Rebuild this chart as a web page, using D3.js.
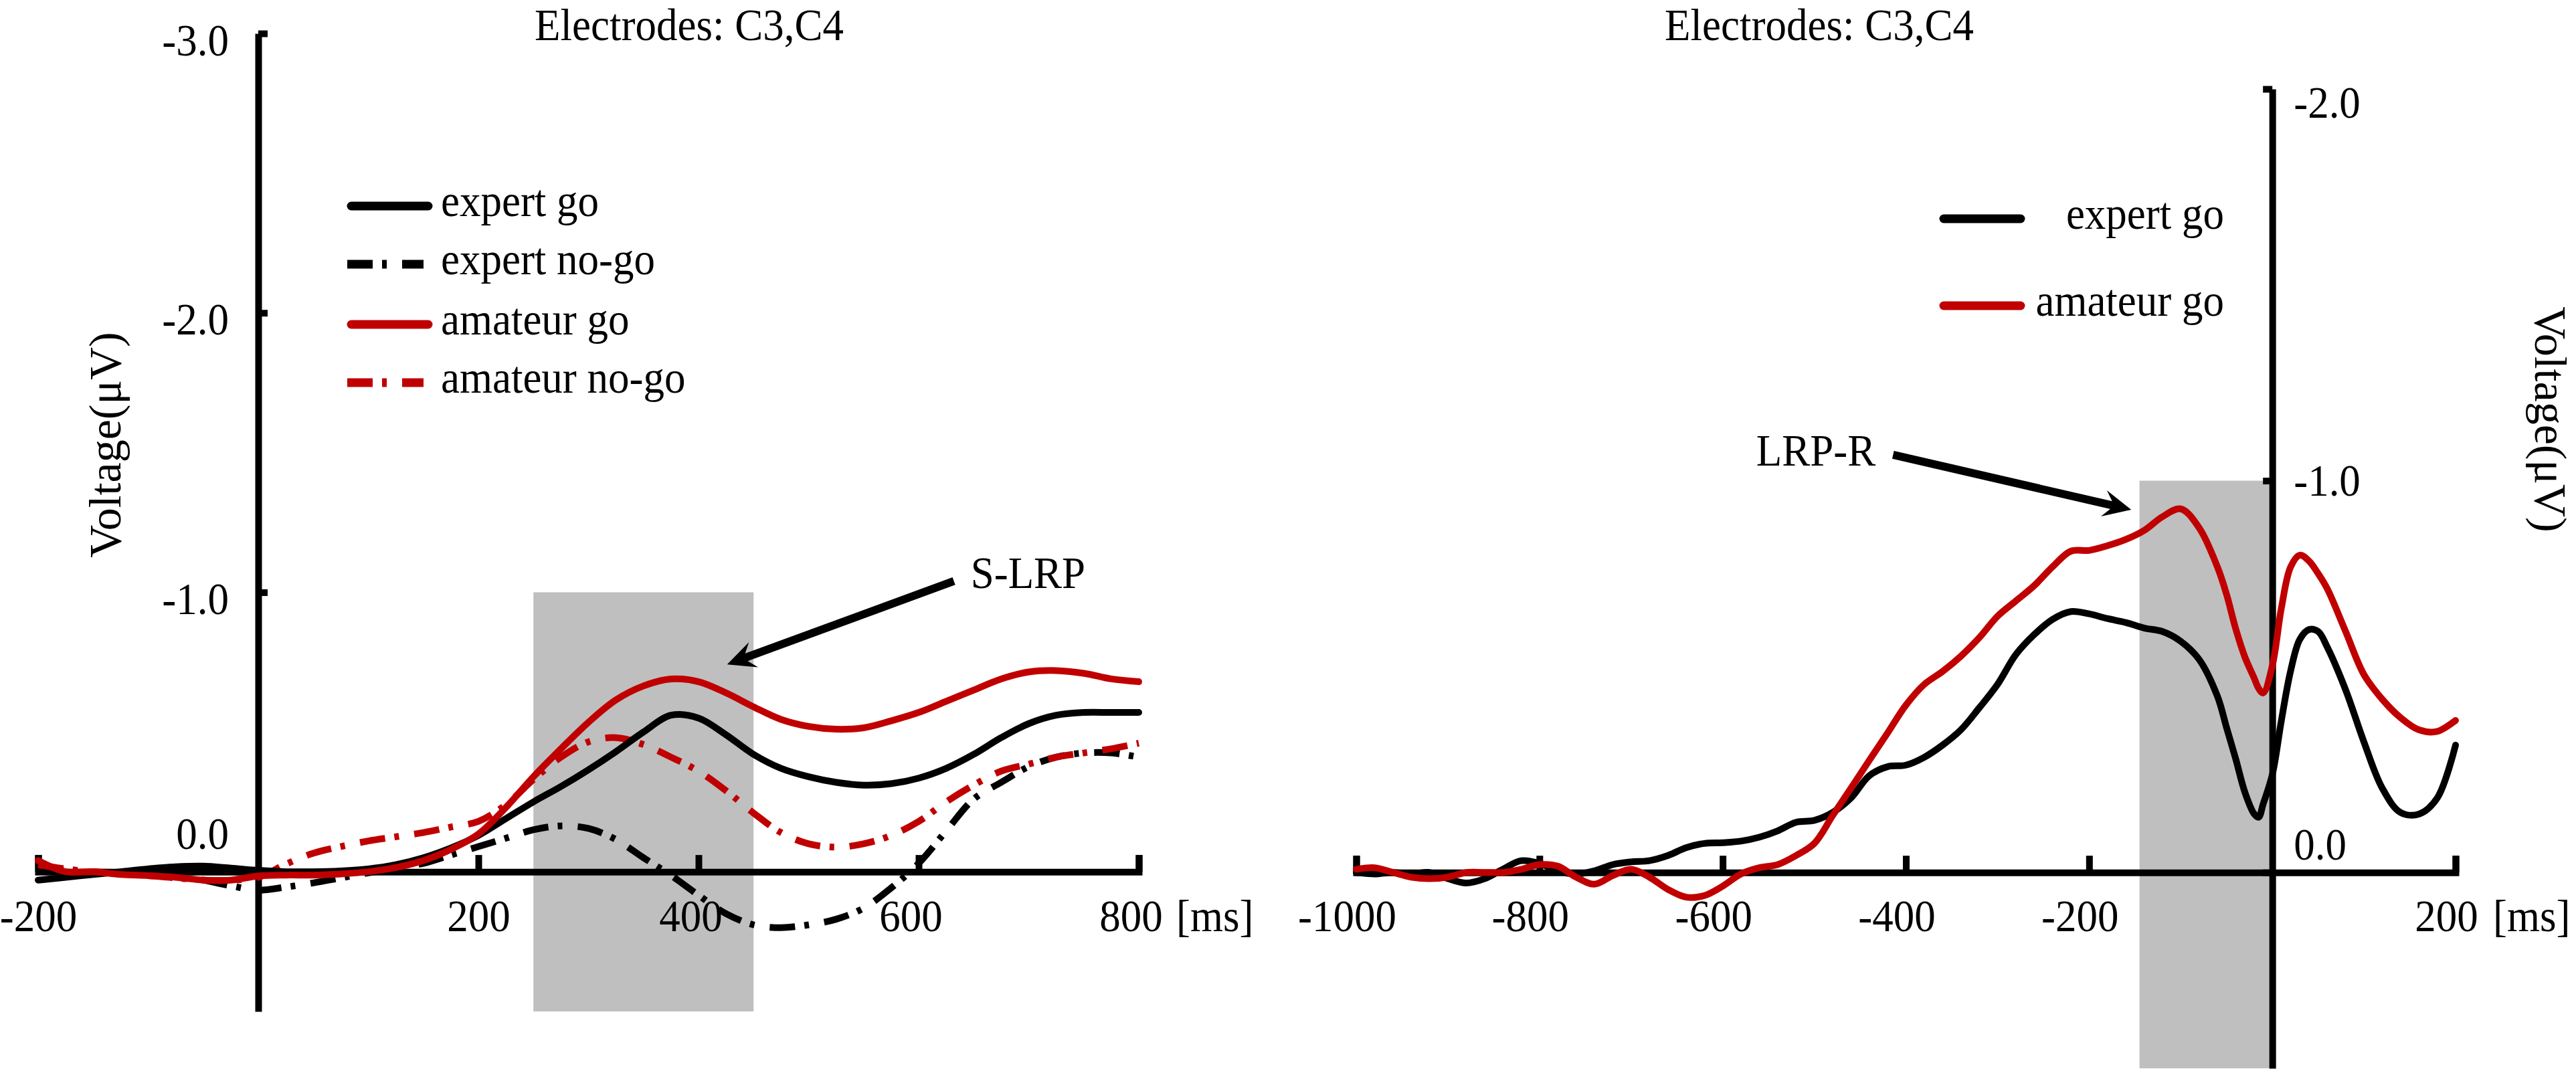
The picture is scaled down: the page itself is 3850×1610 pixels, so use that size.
<!DOCTYPE html>
<html>
<head>
<meta charset="utf-8">
<script src="https://cdn.jsdelivr.net/npm/d3@7"></script>
<style>
  body { margin: 0; background: #fff; }
  svg { display: block; background: #fff; }
</style>
</head>
<body>
<svg id="chart" width="3850" height="1610"></svg>
<script>
// ---- stimulus-locked LRP (left panel), ms and µV ----
const sTimes = [-200, -175, -150, -125, -100, -75, -50, -25, 0, 25, 50, 75, 100, 125, 150, 175,
    200, 225, 250, 275, 300, 325, 350, 375, 400, 425, 450, 475, 500, 525, 550, 575,
    600, 625, 650, 675, 700, 725, 750, 775, 800];

const expertGoS = [0.03, 0.02, 0.01, 0.0, -0.01, -0.018, -0.02, -0.013, -0.005, 0.0, 0.0, -0.003,
    -0.01, -0.025, -0.05, -0.085, -0.13, -0.19, -0.25, -0.305, -0.365, -0.43, -0.5, -0.56,
    -0.55, -0.49, -0.42, -0.37, -0.34, -0.32, -0.31, -0.315, -0.335, -0.37, -0.42, -0.48,
    -0.53, -0.56, -0.57, -0.57, -0.57];

const expertNoGoS = [-0.01, -0.005, 0.0, 0.003, 0.006, 0.015, 0.03, 0.05, 0.066, 0.055, 0.04, 0.022,
    0.004, -0.013, -0.03, -0.06, -0.09, -0.12, -0.15, -0.164, -0.155, -0.115, -0.05, 0.013,
    0.084, 0.15, 0.19, 0.2, 0.19, 0.17, 0.13, 0.058, -0.03, -0.146, -0.26, -0.32,
    -0.376, -0.41, -0.425, -0.425, -0.41];

const amateurGoS = [-0.04, 0.0, 0.0, 0.01, 0.014, 0.02, 0.03, 0.03, 0.015, 0.012, 0.012, 0.008,
    0.0, -0.015, -0.04, -0.08, -0.135, -0.23, -0.34, -0.44, -0.535, -0.615, -0.665, -0.69,
    -0.68, -0.64, -0.59, -0.545, -0.52, -0.51, -0.515, -0.54, -0.57, -0.61, -0.65, -0.69,
    -0.715, -0.72, -0.71, -0.69, -0.68];

const amateurNoGoS = [-0.025, -0.01, 0.0, 0.008, 0.014, 0.022, 0.03, 0.03, 0.02, -0.027, -0.066, -0.09,
    -0.11, -0.125, -0.14, -0.16, -0.18, -0.24, -0.33, -0.41, -0.465, -0.48, -0.455, -0.41,
    -0.36, -0.29, -0.21, -0.14, -0.1, -0.088, -0.1, -0.13, -0.18, -0.25, -0.31, -0.36,
    -0.385, -0.41, -0.425, -0.44, -0.46];

// ---- response-locked LRP (right panel) ----
const rTimes = [-1000, -980, -960, -940, -920, -900, -880, -860, -840, -820, -800, -780,
    -760, -740, -720, -700, -680, -660, -640, -620, -600, -580, -560, -540,
    -520, -500, -480, -460, -440, -420, -400, -380, -360, -340, -320, -300,
    -280, -260, -240, -220, -200, -180, -160, -140, -120, -100, -80, -60,
    -50, -40, -30, -20, -15, -10, 0, 10, 20, 30, 40, 50, 60,
    80, 100, 120, 140, 160, 180, 200];

const expertGoR = [0.0, 0.004, 0.0, 0.004, 0.0, 0.016, 0.027, 0.016, -0.008, -0.03, -0.023, -0.004,
    0.004, -0.004, -0.02, -0.027, -0.03, -0.043, -0.063, -0.074, -0.076, -0.08, -0.09, -0.106,
    -0.128, -0.133, -0.153, -0.19, -0.247, -0.27, -0.274, -0.294, -0.325, -0.364, -0.42, -0.48,
    -0.556, -0.607, -0.646, -0.666, -0.66, -0.648, -0.638, -0.624, -0.615, -0.59, -0.544, -0.45,
    -0.37, -0.29, -0.205, -0.15, -0.141, -0.175, -0.25, -0.39, -0.515, -0.595, -0.62, -0.615, -0.575,
    -0.466, -0.333, -0.215, -0.153, -0.149, -0.19, -0.325];

const amateurGoR = [-0.008, -0.012, 0.0, 0.012, 0.016, 0.012, 0.0, 0.0, 0.0, -0.008, -0.02, -0.016,
    0.012, 0.03, 0.008, -0.008, 0.012, 0.043, 0.063, 0.059, 0.035, 0.004, -0.012, -0.02,
    -0.043, -0.074, -0.145, -0.215, -0.286, -0.356, -0.427, -0.48, -0.513, -0.552, -0.599, -0.654,
    -0.693, -0.732, -0.78, -0.82, -0.822, -0.834, -0.85, -0.873, -0.908, -0.928, -0.88, -0.78,
    -0.71, -0.622, -0.55, -0.497, -0.47, -0.458, -0.528, -0.677, -0.78, -0.81, -0.795, -0.763, -0.724,
    -0.615, -0.505, -0.442, -0.395, -0.364, -0.36, -0.388];

const sTicksX = [-200, 200, 400, 600, 800];
const sTicksY = [-3, -2, -1, 0];
const rTicksX = [-1000, -800, -600, -400, -200, 200];
const rTicksY = [-2, -1, 0];

const sWindow = [250, 450];   // shaded S-LRP window (ms)
const rWindow = [-145, 0];    // shaded LRP-R window (ms)

const red = "#c00000";
const grey = "#bfbfbf";
const serif = '"Liberation Serif", "Times New Roman", Times, serif';
const fs = 63;
const vStretch = 1.08;        // the figure's lettering is slightly tall
const dashDot = "38,14,7,23";

const svg = d3.select("#chart")
    .attr("font-family", serif)
    .attr("font-size", fs);

// scales
const xS = d3.scaleLinear().domain([-200, 800]).range([57, 1702]);
const yS = d3.scaleLinear().domain([-3, 0.5]).range([50, 1512]);
const xR = d3.scaleLinear().domain([-1000, 200]).range([2027, 3670]);
const yR = d3.scaleLinear().domain([-2, 0.5]).range([133, 1597]);

const addText = (x, y, str, anchor = "start") => svg.append("text")
    .attr("transform", `translate(${x},${y}) scale(1,${vStretch})`)
    .attr("text-anchor", anchor)
    .text(str);

// shaded windows (from -1.0 down to the bottom of the axis)
svg.append("rect")
    .attr("x", xS(sWindow[0]))
    .attr("width", xS(sWindow[1]) - xS(sWindow[0]))
    .attr("y", yS(-1))
    .attr("height", yS(0.5) - yS(-1))
    .attr("fill", grey);

svg.append("rect")
    .attr("x", xR(rWindow[0]))
    .attr("width", xR(rWindow[1]) - xR(rWindow[0]))
    .attr("y", yR(-1))
    .attr("height", yR(0.5) - yR(-1))
    .attr("fill", grey);

// axis styling; labels placed by (dx, baseline) relative to the tick
const styleAxis = (g, place) => {
    g.attr("font-family", serif).attr("font-size", fs);
    g.select(".domain").attr("stroke-width", 10);
    g.selectAll(".tick line").attr("stroke-width", 10);
    g.selectAll(".tick text")
        .attr("fill", "#000")
        .attr("x", null).attr("y", null).attr("dy", null)
        .attr("transform", d => {
            const [dx, by] = place(d);
            return `translate(${dx},${by}) scale(1,${vStretch})`;
        });
};

const fmtX = d => String(d);
const fmtY = d => d.toFixed(1);

// left axes
const gSx = svg.append("g")
    .attr("transform", `translate(0,${yS(0)})`)
    .call(d3.axisBottom(xS).tickValues(sTicksX).tickSizeInner(-25).tickSizeOuter(-25)
        .tickFormat(fmtX));
styleAxis(gSx, d => [d >= 400 ? -12 : 0, 89]);

const gSy = svg.append("g")
    .attr("transform", `translate(${xS(0)},0)`)
    .call(d3.axisLeft(yS).tickValues(sTicksY).tickSizeInner(-14).tickSizeOuter(0)
        .tickFormat(fmtY));
styleAxis(gSy, d => [-44, d === 0 ? -35 : 32]);

// right axes
const gRx = svg.append("g")
    .attr("transform", `translate(0,${yR(0)})`)
    .call(d3.axisBottom(xR).tickValues(rTicksX).tickSizeInner(-25).tickSizeOuter(-25)
        .tickFormat(fmtX));
styleAxis(gRx, () => [-14, 88]);

const gRy = svg.append("g")
    .attr("transform", `translate(${xR(0)},0)`)
    .call(d3.axisRight(yR).tickValues(rTicksY).tickSizeInner(-14).tickSizeOuter(0)
        .tickFormat(fmtY));
styleAxis(gRy, d => [32, d === -2 ? 42 : d === -1 ? 22 : -20]);

// unit labels
addText(1758, yS(0) + 89, "[ms]");
addText(3726, yR(0) + 88, "[ms]");

// titles
addText(1030, 60, "Electrodes: C3,C4", "middle");
addText(2719, 60, "Electrodes: C3,C4", "middle");

// y axis titles
svg.append("text")
    .attr("transform", "translate(180,665) rotate(-90)")
    .attr("text-anchor", "middle")
    .attr("font-size", 68)
    .text("Voltage(μV)");
svg.append("text")
    .attr("transform", "translate(3789,627) rotate(90)")
    .attr("text-anchor", "middle")
    .attr("font-size", 68)
    .text("Voltage(μV)");

// curves
const drawCurve = (times, values, x, y, color, dashed) => {
    const line = d3.line()
        .x((d, i) => x(times[i]))
        .y(d => y(d))
        .curve(d3.curveCatmullRom.alpha(0.5));
    svg.append("path")
        .datum(values)
        .attr("d", line)
        .attr("fill", "none")
        .attr("stroke", color)
        .attr("stroke-width", 10)
        .attr("stroke-linejoin", "round")
        .attr("stroke-linecap", dashed ? "butt" : "round")
        .attr("stroke-dasharray", dashed ? dashDot : null);
};

drawCurve(sTimes, expertNoGoS, xS, yS, "#000", true);
drawCurve(sTimes, amateurNoGoS, xS, yS, red, true);
drawCurve(sTimes, expertGoS, xS, yS, "#000", false);
drawCurve(sTimes, amateurGoS, xS, yS, red, false);

drawCurve(rTimes, expertGoR, xR, yR, "#000", false);
drawCurve(rTimes, amateurGoR, xR, yR, red, false);

// legends
const sLegend = [
    { label: "expert go", color: "#000", dashed: false },
    { label: "expert no-go", color: "#000", dashed: true },
    { label: "amateur go", color: red, dashed: false },
    { label: "amateur no-go", color: red, dashed: true }
];
const sLegendY = [308, 395, 485, 572];

sLegend.forEach((d, i) => {
    const y = sLegendY[i];
    svg.append("line")
        .attr("x1", d.dashed ? 519 : 525).attr("x2", d.dashed ? 633 : 640)
        .attr("y1", y).attr("y2", y)
        .attr("stroke", d.color).attr("stroke-width", 13)
        .attr("stroke-linecap", d.dashed ? "butt" : "round")
        .attr("stroke-dasharray", d.dashed ? dashDot : null);
    addText(659, y + 15, d.label);
});

const rLegend = [
    { label: "expert go", color: "#000" },
    { label: "amateur go", color: red }
];
const rLegendY = [327, 457];

rLegend.forEach((d, i) => {
    const y = rLegendY[i];
    svg.append("line")
        .attr("x1", 2905).attr("x2", 3020)
        .attr("y1", y).attr("y2", y)
        .attr("stroke", d.color).attr("stroke-width", 13)
        .attr("stroke-linecap", "round");
    addText(3324, y + 15, d.label, "end");
});

// annotation arrows
const drawArrow = (x1, y1, x2, y2) => {
    const len = Math.hypot(x2 - x1, y2 - y1);
    const ux = (x2 - x1) / len, uy = (y2 - y1) / len;
    const px = -uy, py = ux;
    const L = 42, W = 20, N = 26;
    const bx = x2 - ux * L, by = y2 - uy * L;
    const nx = x2 - ux * N, ny = y2 - uy * N;
    svg.append("line")
        .attr("x1", x1).attr("y1", y1).attr("x2", nx).attr("y2", ny)
        .attr("stroke", "#000").attr("stroke-width", 12);
    svg.append("path")
        .attr("d", `M${x2},${y2}L${bx + px * W},${by + py * W}L${nx},${ny}L${bx - px * W},${by - py * W}Z`)
        .attr("fill", "#000");
};

// S-LRP: tail and tip in data units
const sTail = [xS(632), yS(-1.04)], sTip = [xS(426), yS(-0.742)];
drawArrow(sTail[0], sTail[1], sTip[0], sTip[1]);
addText(sTail[0] + 25, sTail[1] + 10, "S-LRP");

const rTail = [xR(-414), yR(-1.066)], rTip = [xR(-154), yR(-0.926)];
drawArrow(rTail[0], rTail[1], rTip[0], rTip[1]);
addText(rTail[0] - 26, rTail[1] + 16, "LRP-R", "end");
</script>
</body>
</html>
